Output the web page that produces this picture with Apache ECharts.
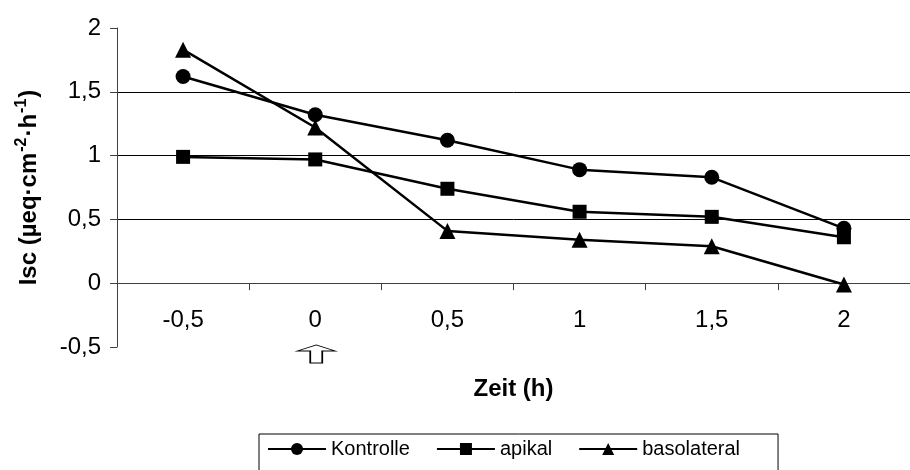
<!DOCTYPE html>
<html>
<head>
<meta charset="utf-8">
<script src="https://cdn.jsdelivr.net/npm/echarts@6/dist/echarts.min.js"></script>
<style>html,body{margin:0;padding:0;background:#fff}#c{width:910px;height:470px}</style>
</head>
<body>
<div id="c"></div>
<script>
const categories = ['-0,5', '0', '0,5', '1', '1,5', '2'];
const kontrolle = [1.62, 1.32, 1.12, 0.89, 0.83, 0.43];
const apikal = [0.99, 0.97, 0.74, 0.56, 0.52, 0.36];
const basolateral = [1.83, 1.22, 0.41, 0.34, 0.29, -0.01];
const seriesNames = ['Kontrolle', 'apikal', 'basolateral'];
const arrowAt = {cat: 1, value: -0.5};

const FONT = 'Liberation Sans, Arial, sans-serif';
const chart = echarts.init(document.getElementById('c'), null, {renderer: 'canvas'});
const mk = (name, data, symbol, size) => ({
  name, type: 'line', data, symbol, symbolSize: size, showSymbol: true,
  color: '#000', lineStyle: {color: '#000', width: 2.5},
  itemStyle: {color: '#000'}, animation: false, z: 3
});
const s1 = mk(seriesNames[0], kontrolle, 'circle', 15);
s1.markPoint = {
  symbol: 'path://M0,6 L19,0 L38,6 L25,6 L25,18 L13,18 L13,6 Z',
  symbolSize: [38, 18],
  symbolOffset: [1, 7],
  itemStyle: {color: '#fff', borderColor: '#000', borderWidth: 1.2},
  label: {show: false},
  data: [{coord: [arrowAt.cat, arrowAt.value]}],
  animation: false
};
const GRID_H = 319;
chart.setOption({
  animation: false,
  textStyle: {fontFamily: FONT},
  grid: {left: 117, top: 28, width: 800, height: GRID_H, containLabel: false},
  legend: {
    left: 259, top: 434,
    data: seriesNames,
    itemWidth: 58, itemHeight: 15, itemGap: 26,
    borderColor: '#000', borderWidth: 1,
    padding: [5, 38, 30, 8],
    textStyle: {fontFamily: FONT, fontSize: 20, color: '#000'}
  },
  xAxis: {
    type: 'category', data: categories, boundaryGap: true,
    offset: -GRID_H * 0.5 / 2.5,
    name: 'Zeit (h)', nameLocation: 'middle', nameGap: 94,
    nameTextStyle: {fontFamily: FONT, fontSize: 24, fontWeight: 'bold', color: '#000'},
    axisLine: {onZero: false, lineStyle: {color: '#404040', width: 1}},
    axisTick: {show: true, alignWithLabel: false, length: 7, lineStyle: {color: '#404040'}},
    axisLabel: {fontFamily: FONT, fontSize: 24, color: '#000', margin: 25},
    splitLine: {show: false}
  },
  yAxis: {
    type: 'value', min: -0.5, max: 2, interval: 0.5,
    name: '{a|Isc (µeq·cm}{s|-2}{a|·h}{s|-1}{a|)}',
    nameLocation: 'middle', nameGap: 73, nameRotate: 90,
    nameTextStyle: {
      rich: {
        a: {fontFamily: FONT, fontSize: 24, fontWeight: 'bold', color: '#000'},
        s: {fontFamily: FONT, fontSize: 16, fontWeight: 'bold', color: '#000', verticalAlign: 'top', padding: [0, 1, 14, 1]}
      }
    },
    axisLine: {show: true, lineStyle: {color: '#404040', width: 1}},
    axisTick: {show: true, length: 7, lineStyle: {color: '#404040'}},
    axisLabel: {fontFamily: FONT, fontSize: 24, color: '#000', margin: 16,
      formatter: v => String(v).replace('.', ',')},
    splitLine: {show: true, showMinLine: false, showMaxLine: false, lineStyle: {color: '#000', width: 1}}
  },
  series: [
    s1,
    mk(seriesNames[1], apikal, 'rect', 14),
    mk(seriesNames[2], basolateral, 'triangle', 16)
  ]
});
</script>
</body>
</html>
